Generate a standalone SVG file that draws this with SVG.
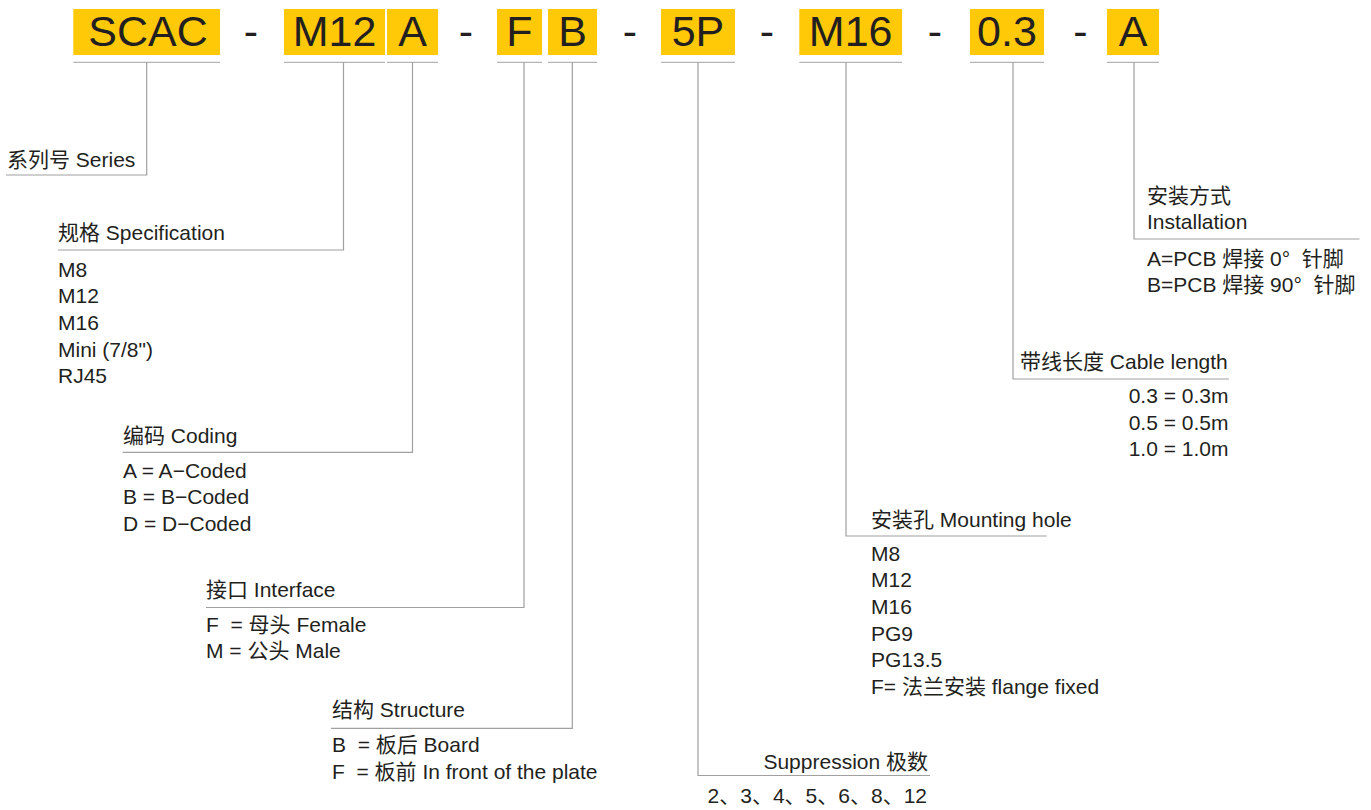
<svg xmlns="http://www.w3.org/2000/svg" width="1371" height="810" viewBox="0 0 1371 810">
<style>
.box{fill:#FFC907}
.big{font-family:"Liberation Sans",Arial,"Noto Sans CJK SC",sans-serif;font-size:43px;fill:#231f20;text-anchor:middle}
.t{font-family:"Liberation Sans",Arial,"Noto Sans CJK SC",sans-serif;font-size:21px;fill:#231f20}
.r{text-anchor:end}
.ul{stroke:#b4b4b4;stroke-width:1.3;fill:none}
.cn{stroke:#a0a0a0;stroke-width:1.2;fill:none}
</style>
<rect width="1371" height="810" fill="#ffffff"/>
<g id="code">
  <rect class="box" x="73.3" y="9" width="146.7" height="46"/>
  <text class="big" x="148" y="46">SCAC</text>
  <text class="big" x="251" y="46">-</text>
  <rect class="box" x="284" y="9" width="101" height="46"/>
  <text class="big" x="334.5" y="46">M12</text>
  <rect class="box" x="387" y="9" width="51" height="46"/>
  <text class="big" x="412.5" y="46">A</text>
  <text class="big" x="466" y="46">-</text>
  <rect class="box" x="497" y="9" width="45" height="46"/>
  <text class="big" x="519.5" y="46">F</text>
  <rect class="box" x="548" y="9" width="49" height="46"/>
  <text class="big" x="572.5" y="46">B</text>
  <text class="big" x="630" y="46">-</text>
  <rect class="box" x="661" y="9" width="74" height="46"/>
  <text class="big" x="698" y="46">5P</text>
  <text class="big" x="767" y="46">-</text>
  <rect class="box" x="799.3" y="9" width="102.7" height="46"/>
  <text class="big" x="850.7" y="46">M16</text>
  <text class="big" x="935" y="46">-</text>
  <rect class="box" x="970" y="9" width="74" height="46"/>
  <text class="big" x="1007" y="46">0.3</text>
  <text class="big" x="1080.5" y="46">-</text>
  <rect class="box" x="1107" y="9" width="52" height="46"/>
  <text class="big" x="1133" y="46">A</text>
</g>
<g id="underlines">
  <line class="ul" x1="73.3" y1="62.3" x2="220" y2="62.3"/>
  <line class="ul" x1="284" y1="62.3" x2="385" y2="62.3"/>
  <line class="ul" x1="387" y1="62.3" x2="438" y2="62.3"/>
  <line class="ul" x1="497" y1="62.3" x2="542" y2="62.3"/>
  <line class="ul" x1="548" y1="62.3" x2="597" y2="62.3"/>
  <line class="ul" x1="661" y1="62.3" x2="735" y2="62.3"/>
  <line class="ul" x1="799.3" y1="62.3" x2="902" y2="62.3"/>
  <line class="ul" x1="970" y1="62.3" x2="1044" y2="62.3"/>
  <line class="ul" x1="1107" y1="62.3" x2="1159" y2="62.3"/>
</g>
<g id="connectors">
  <polyline class="cn" points="146.7,62.3 146.7,175 6,175"/>
  <polyline class="cn" points="343.5,62.3 343.5,250 58,250"/>
  <polyline class="cn" points="412.5,62.3 412.5,452.3 122.7,452.3"/>
  <polyline class="cn" points="524,62.3 524,607.5 206,607.5"/>
  <polyline class="cn" points="572.3,62.3 572.3,728.3 331,728.3"/>
  <polyline class="cn" points="698,62.3 698,775.5 930,775.5"/>
  <polyline class="cn" points="846,62.3 846,536 1046.7,536"/>
  <polyline class="cn" points="1013,62.3 1013,379 1229,379"/>
  <polyline class="cn" points="1134,62.3 1134,239 1359.5,239"/>
</g>
<g id="series">
  <text class="t" x="7" y="167">系列号 Series</text>
</g>
<g id="specification">
  <text class="t" x="58" y="240">规格 Specification</text>
  <text class="t" x="58" y="276.7">M8</text>
  <text class="t" x="58" y="303.4">M12</text>
  <text class="t" x="58" y="330">M16</text>
  <text class="t" x="58" y="356.7">Mini (7/8")</text>
  <text class="t" x="58" y="383.3">RJ45</text>
</g>
<g id="coding">
  <text class="t" x="123" y="443">编码 Coding</text>
  <text class="t" x="123" y="477.7">A = A−Coded</text>
  <text class="t" x="123" y="504.3">B = B−Coded</text>
  <text class="t" x="123" y="531">D = D−Coded</text>
</g>
<g id="interface">
  <text class="t" x="206" y="596.7">接口 Interface</text>
  <text class="t" x="206" y="631.7" xml:space="preserve">F  = 母头 Female</text>
  <text class="t" x="206" y="658.3">M = 公头 Male</text>
</g>
<g id="structure">
  <text class="t" x="332" y="716.7">结构 Structure</text>
  <text class="t" x="332" y="752.3" xml:space="preserve">B  = 板后 Board</text>
  <text class="t" x="332" y="778.6" xml:space="preserve">F  = 板前 In front of the plate</text>
</g>
<g id="suppression">
  <text class="t r" x="928" y="768.5">Suppression 极数</text>
  <text class="t r" x="927" y="803">2、3、4、5、6、8、12</text>
</g>
<g id="mounting-hole">
  <text class="t" x="871" y="526.7">安装孔 Mounting hole</text>
  <text class="t" x="871" y="560.7">M8</text>
  <text class="t" x="871" y="587.3">M12</text>
  <text class="t" x="871" y="614">M16</text>
  <text class="t" x="871" y="640.7">PG9</text>
  <text class="t" x="871" y="667.3">PG13.5</text>
  <text class="t" x="871" y="694">F= 法兰安装 flange fixed</text>
</g>
<g id="cable-length">
  <text class="t" x="1020" y="369">带线长度 Cable length</text>
  <text class="t r" x="1228.5" y="402.7">0.3 = 0.3m</text>
  <text class="t r" x="1228.5" y="429.6">0.5 = 0.5m</text>
  <text class="t r" x="1228.5" y="456.3">1.0 = 1.0m</text>
</g>
<g id="installation">
  <text class="t" x="1147" y="202.5">安装方式</text>
  <text class="t" x="1147" y="229">Installation</text>
  <text class="t" x="1147" y="265.5" xml:space="preserve">A=PCB 焊接 0°  针脚</text>
  <text class="t" x="1147" y="292.3" xml:space="preserve">B=PCB 焊接 90°  针脚</text>
</g>
</svg>
